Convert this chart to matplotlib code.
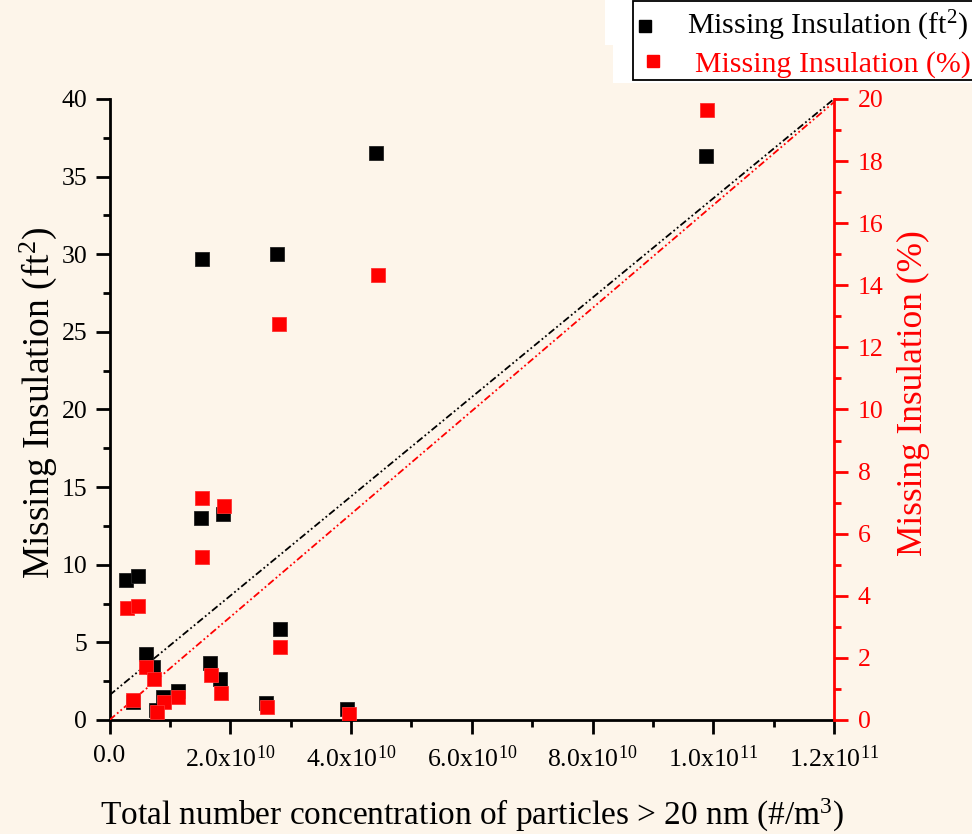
import matplotlib
matplotlib.use("Agg")
import matplotlib.pyplot as plt
from matplotlib.lines import Line2D
from matplotlib.patches import Rectangle
from matplotlib.ticker import MultipleLocator

plt.rcParams['font.family'] = ['Liberation Serif', 'DejaVu Serif']
plt.rcParams['mathtext.fontset'] = 'custom'
plt.rcParams['mathtext.rm'] = 'Liberation Serif'
plt.rcParams['mathtext.it'] = 'Liberation Serif:italic'
plt.rcParams['mathtext.bf'] = 'Liberation Serif:bold'

# ---- data ----
conc_e9 = [2.8, 4.7, 6.0, 7.2, 3.9, 8.9, 11.3, 7.7, 15.2, 15.3, 18.8,
           16.6, 18.3, 27.8, 44.1, 98.8, 25.9, 28.2, 39.4]
missing_ft2 = [9.0, 9.3, 4.25, 3.39, 1.18, 1.5, 1.87, 0.65, 13.0, 29.7, 13.3,
               3.69, 2.62, 30.0, 36.5, 36.3, 1.07, 5.86, 0.69]
missing_pct = [3.6, 3.67, 1.70, 1.31, 0.64, 0.59, 0.73, 0.27, 5.26, 7.14, 6.89,
               1.45, 0.86, 12.75, 14.33, 19.65, 0.43, 2.34, 0.19]
conc_pct_e9 = [2.9, 4.8, 6.1, 7.4, 3.9, 9.0, 11.4, 7.9, 15.4, 15.4, 19.0,
               16.8, 18.4, 28.1, 44.5, 99.0, 26.1, 28.3, 39.6]

fit_x_e9 = [0.0, 120.0]
fit_ft2 = [1.6, 40.0]
fit_pct = [0.0, 19.9]

xticks_e9 = [0, 20, 40, 60, 80, 100, 120]
xtick_labels = ['0.0', '2.0x10$^{10}$', '4.0x10$^{10}$', '6.0x10$^{10}$',
                '8.0x10$^{10}$', '1.0x10$^{11}$', '1.2x10$^{11}$']
legend_labels = ['Missing Insulation (ft$^2$)', 'Missing Insulation (%)']

conc = [v * 1e9 for v in conc_e9]
conc_p = [v * 1e9 for v in conc_pct_e9]
fit_x = [v * 1e9 for v in fit_x_e9]
xticks = [v * 1e9 for v in xticks_e9]

bg = '#FDF5EA'
RED = '#FF0000'
W, H = 972, 834

fig = plt.figure(figsize=(9.72, 8.34), dpi=100, facecolor=bg)
ax = fig.add_axes([109.5/W, 114/H, (834-109.5)/W, (720-99)/H])
ax.set_facecolor(bg)
ax2 = ax.twinx()

ls = (0, (4, 1.5, 1, 1.5, 1, 1.5))
ax.plot(fit_x, fit_ft2, color='black', lw=1.3, linestyle=ls, zorder=1)
ax2.plot(fit_x, fit_pct, color=RED, lw=1.3, linestyle=ls, zorder=1)
ax.plot(conc, missing_ft2, 's', color='black', ms=9.5, mec='#222222', mew=0.6, zorder=3)
ax2.plot(conc_p, missing_pct, 's', color=RED, ms=9.5, mec='#FF3030', mew=0.6, zorder=3)

ax.set_xlim(0, 1.2e11)
ax.set_ylim(0, 40)
ax2.set_ylim(0, 20)
ax.set_xticks(xticks)
ax.set_xticklabels(xtick_labels)
ax.xaxis.set_minor_locator(MultipleLocator(1e10))
ax.yaxis.set_major_locator(MultipleLocator(5))
ax.yaxis.set_minor_locator(MultipleLocator(2.5))
ax2.yaxis.set_major_locator(MultipleLocator(2))
ax2.yaxis.set_minor_locator(MultipleLocator(1))

for a in (ax, ax2):
    a.spines['top'].set_visible(False)
ax.spines['right'].set_visible(False)
ax2.spines['left'].set_visible(False)
ax2.spines['bottom'].set_visible(False)
ax.spines['left'].set_linewidth(2)
ax.spines['bottom'].set_linewidth(2)
ax2.spines['right'].set_linewidth(2)
ax2.spines['right'].set_color(RED)

ax.tick_params(axis='both', which='major', direction='out', length=10, width=2,
               labelsize=18.5, colors='black', pad=6)
ax.tick_params(axis='both', which='minor', direction='out', length=5, width=2)
ax.tick_params(axis='x', which='major', pad=8)
ax.tick_params(top=False, right=False, which='both')
ax2.tick_params(axis='y', which='major', direction='out', length=10, width=2,
                labelsize=18.5, colors=RED, pad=7)
ax2.tick_params(axis='y', which='minor', direction='out', length=5, width=2, colors=RED)

ax.set_xlabel('Total number concentration of particles > 20 nm (#/m$^3$)',
              fontsize=24, labelpad=18)
ax.set_ylabel('Missing Insulation (ft$^2$)', fontsize=27)
ax.yaxis.set_label_coords(-0.07, 0.51)
ax2.set_ylabel('Missing Insulation (%)', fontsize=25.5, color=RED)
ax2.yaxis.set_label_coords(1.087, 0.526)

# white area behind the legend
fig.add_artist(Rectangle((605/W, 1 - 45/H), 1, 45/H, transform=fig.transFigure,
                         facecolor='white', edgecolor='none', zorder=5))
fig.add_artist(Rectangle((613/W, 1 - 83/H), 1, 83/H, transform=fig.transFigure,
                         facecolor='white', edgecolor='none', zorder=5))
# legend frame and entries
fig.add_artist(Rectangle((633/W, 1 - 80/H), 400/W, 79/H, transform=fig.transFigure,
                         facecolor='white', edgecolor='black', lw=1.3, zorder=6))
leg_colors = ['black', RED]
leg_marker_x = [645, 653]
leg_text_x = [687, 695]
leg_y = [26, 61]
leg_base = [34, 72]
for lab, col, mx, tx, my, by in zip(legend_labels, leg_colors, leg_marker_x,
                                    leg_text_x, leg_y, leg_base):
    fig.add_artist(Line2D([mx/W], [1 - my/H], marker='s', ls='none', color=col,
                          ms=8, transform=fig.transFigure, zorder=7))
    fig.text(tx/W, 1 - by/H, lab, color=col, fontsize=21.5, va='baseline',
             ha='left', zorder=7)

fig.savefig('out.png', dpi=100, facecolor=bg)
